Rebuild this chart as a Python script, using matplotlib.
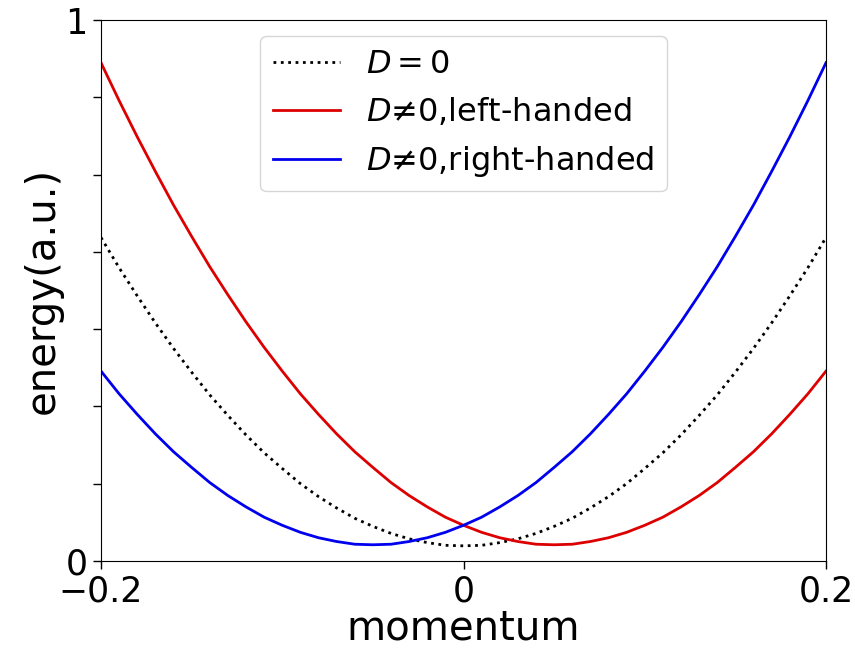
import numpy as np
import matplotlib
matplotlib.use("Agg")
import matplotlib.pyplot as plt

# momentum grid and band energies (a.u.)
momentum = [-0.20, -0.19, -0.18, -0.17, -0.16, -0.15, -0.14, -0.13, -0.12, -0.11,
            -0.10, -0.09, -0.08, -0.07, -0.06, -0.05, -0.04, -0.03, -0.02, -0.01,
            0.00, 0.01, 0.02, 0.03, 0.04, 0.05, 0.06, 0.07, 0.08, 0.09,
            0.10, 0.11, 0.12, 0.13, 0.14, 0.15, 0.16, 0.17, 0.18, 0.19, 0.20]
e_zero = [0.598, 0.542, 0.490, 0.440, 0.393, 0.349, 0.307, 0.269, 0.233, 0.200,
          0.171, 0.143, 0.119, 0.098, 0.079, 0.064, 0.051, 0.041, 0.034, 0.029,
          0.028, 0.029, 0.034, 0.041, 0.051, 0.064, 0.079, 0.098, 0.119, 0.143,
          0.171, 0.200, 0.233, 0.269, 0.307, 0.349, 0.393, 0.440, 0.490, 0.542, 0.598]
e_left = [0.921, 0.851, 0.784, 0.720, 0.658, 0.600, 0.544, 0.492, 0.442, 0.395,
          0.351, 0.309, 0.271, 0.235, 0.202, 0.173, 0.145, 0.121, 0.100, 0.081,
          0.066, 0.053, 0.043, 0.036, 0.031, 0.030, 0.031, 0.036, 0.043, 0.053,
          0.066, 0.081, 0.100, 0.121, 0.145, 0.173, 0.202, 0.235, 0.271, 0.309, 0.351]
e_right = e_left[::-1]

labels = ["$D=0$", "$D$≠0,left-handed", "$D$≠0,right-handed"]

fig = plt.figure(figsize=(8.55, 6.51), dpi=100)
ax = fig.add_axes([101 / 855, 1 - 561 / 651, 725 / 855, 541 / 651])

ax.plot(momentum, e_zero, ":", color="black", lw=2.0, label=labels[0])
ax.plot(momentum, e_left, "-", color="#dd0000", lw=2.0, label=labels[1])
ax.plot(momentum, e_right, "-", color="#0000ee", lw=2.0, label=labels[2])

ax.set_xlim(-0.2, 0.2)
ax.set_ylim(0, 1)
ax.set_xticks([-0.2, 0, 0.2])
ax.set_xticklabels(["−0.2", "0", "0.2"])
ax.set_yticks(np.linspace(0, 1, 8))
ax.set_yticklabels(["0", "", "", "", "", "", "", "1"])
ax.tick_params(labelsize=25, length=6, width=1.0)

ax.set_xlabel("momentum", fontsize=29, labelpad=0)
ax.set_ylabel("energy(a.u.)", fontsize=29, labelpad=2)

ax.legend(loc="upper center", fontsize=23, handlelength=2.1)

fig.savefig("out.png", dpi=100)
